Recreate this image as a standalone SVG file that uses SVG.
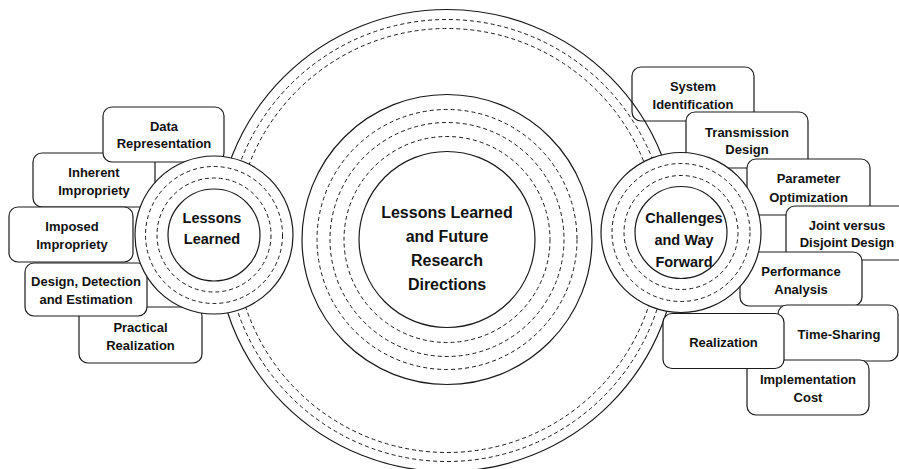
<svg xmlns="http://www.w3.org/2000/svg" width="899" height="469" viewBox="0 0 899 469">
<style>
.box{fill:#fff;stroke:#1a1a1a;stroke-width:1.2}
.ring{fill:none;stroke:#1a1a1a;stroke-width:1.2}
.disc{fill:#fff;stroke:#1a1a1a;stroke-width:1.2}
.dash{fill:none;stroke:#1a1a1a;stroke-width:1;stroke-dasharray:4 3}
text{font-family:"Liberation Sans",Arial,sans-serif;font-weight:bold;fill:#111;text-anchor:middle}
.t{font-size:13px}
.c{font-size:14.5px}
.m{font-size:16px}
</style>
<rect width="899" height="469" fill="#fff"/>
<!-- left boxes -->
<g id="inherent-impropriety"><rect class="box" x="33" y="153" width="122" height="54" rx="9"/><text class="t" x="94" y="177">Inherent</text><text class="t" x="94" y="195">Impropriety</text></g>
<g id="data-representation"><rect class="box" x="103" y="107" width="121" height="55" rx="9"/><text class="t" x="164" y="131">Data</text><text class="t" x="164" y="148">Representation</text></g>
<g id="practical-realization"><rect class="box" x="79" y="307" width="123" height="56" rx="9"/><text class="t" x="140.5" y="332">Practical</text><text class="t" x="140.5" y="350">Realization</text></g>
<g id="imposed-impropriety"><rect class="box" x="9" y="207" width="124" height="55" rx="9"/><text class="t" x="72" y="231">Imposed</text><text class="t" x="72" y="249">Impropriety</text></g>
<g id="design-detection-estimation"><rect class="box" x="25" y="263" width="122" height="53" rx="9"/><text class="t" x="86" y="286">Design, Detection</text><text class="t" x="86" y="304">and Estimation</text></g>
<!-- right boxes -->
<g id="system-identification"><rect class="box" x="632" y="67" width="122" height="54" rx="9"/><text class="t" x="693" y="91">System</text><text class="t" x="693" y="108.5">Identification</text></g>
<g id="transmission-design"><rect class="box" x="686" y="112" width="122" height="56" rx="9"/><text class="t" x="747" y="136.5">Transmission</text><text class="t" x="747" y="154">Design</text></g>
<g id="parameter-optimization"><rect class="box" x="747" y="159" width="123" height="56" rx="9"/><text class="t" x="808.5" y="183">Parameter</text><text class="t" x="808.5" y="201.5">Optimization</text></g>
<g id="joint-disjoint-design"><rect class="box" x="786" y="206" width="122" height="54" rx="9"/><text class="t" x="847" y="229.5">Joint versus</text><text class="t" x="847" y="247">Disjoint Design</text></g>
<g id="performance-analysis"><rect class="box" x="740" y="252" width="122" height="54" rx="9"/><text class="t" x="801" y="276">Performance</text><text class="t" x="801" y="294">Analysis</text></g>
<g id="time-sharing"><rect class="box" x="778" y="305" width="120" height="56" rx="9"/><text class="t" x="839" y="339">Time-Sharing</text></g>
<g id="implementation-cost"><rect class="box" x="747" y="360" width="122" height="55" rx="9"/><text class="t" x="808" y="384">Implementation</text><text class="t" x="808" y="401.5">Cost</text></g>
<!-- big outer ring -->
<g id="outer-ring">
<circle class="ring" cx="447" cy="240.5" r="231"/>
<circle class="dash" cx="447" cy="240.5" r="221"/>
<circle class="dash" cx="447" cy="240.5" r="212"/>
</g>
<g id="realization"><rect class="box" x="663" y="313.5" width="121" height="55" rx="9"/><text class="t" x="723.5" y="346.5">Realization</text></g>
<!-- central node -->
<g id="center">
<circle class="disc" cx="447" cy="239.5" r="145"/>
<circle class="dash" cx="447" cy="239.5" r="130"/>
<circle class="dash" cx="447" cy="239.5" r="117"/>
<circle class="dash" cx="447" cy="239.5" r="103"/>
<circle class="ring" cx="447" cy="239.5" r="88"/>
<text class="m" x="447" y="218">Lessons Learned</text>
<text class="m" x="447" y="242">and Future</text>
<text class="m" x="447" y="266">Research</text>
<text class="m" x="447" y="290">Directions</text>
</g>
<g id="lessons-learned">
<circle class="disc" cx="214" cy="235" r="79"/>
<circle class="dash" cx="214" cy="235" r="68.5"/>
<circle class="dash" cx="214" cy="235" r="57"/>
<circle class="ring" cx="214" cy="235" r="46"/>
<text class="c" x="212" y="223">Lessons</text>
<text class="c" x="212" y="244">Learned</text>
</g>
<g id="challenges-way-forward">
<circle class="disc" cx="681" cy="232.5" r="80"/>
<circle class="dash" cx="681" cy="232.5" r="69"/>
<circle class="dash" cx="681" cy="232.5" r="57"/>
<circle class="ring" cx="681" cy="232.5" r="46"/>
<text class="c" x="684" y="223">Challenges</text>
<text class="c" x="684" y="245">and Way</text>
<text class="c" x="684" y="266.5">Forward</text>
</g>
<g id="connectors"/>
</svg>
